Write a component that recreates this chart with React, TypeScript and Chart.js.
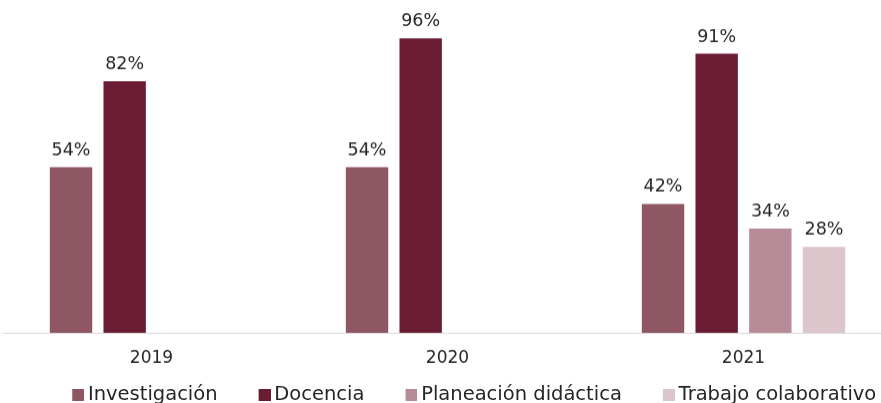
import { useEffect, useRef } from "react";
import { Chart, registerables } from "chart.js";

Chart.register(...registerables);

const categories = ["2019", "2020", "2021"];
const seriesNames = ["Investigación", "Docencia", "Planeación didáctica", "Trabajo colaborativo"];
const investigacion: (number | null)[] = [54, 54, 42];
const docencia: (number | null)[] = [82, 96, 91];
const planeacion: (number | null)[] = [null, null, 34];
const trabajo: (number | null)[] = [null, null, 28];
const seriesColors = ["#8f5664", "#6a1c33", "#b88c97", "#dcc6cc"];

const FONT = "'DejaVu Sans', sans-serif";
const TEXT = "#262626";

const valueLabels = {
  id: "valueLabels",
  afterDatasetsDraw(chart: any) {
    const ctx = chart.ctx;
    ctx.save();
    ctx.font = `17.5px ${FONT}`;
    ctx.fillStyle = TEXT;
    ctx.textAlign = "center";
    ctx.textBaseline = "alphabetic";
    chart.data.datasets.forEach((ds: any, di: number) => {
      const meta = chart.getDatasetMeta(di);
      meta.data.forEach((el: any, i: number) => {
        const v = ds.data[i];
        if (v === null || v === undefined) return;
        ctx.fillText(`${v}%`, el.x, el.y - 12);
      });
    });
    ctx.restore();
  },
};

function makeMarker(color: string): HTMLCanvasElement {
  // legend marker: transparent lead-in followed by a 12px square
  const c = document.createElement("canvas");
  c.width = 42;
  c.height = 12;
  const g = c.getContext("2d");
  if (g) {
    g.fillStyle = color;
    g.fillRect(30, 0, 12, 12);
  }
  return c;
}

export default function App() {
  const ref = useRef<HTMLCanvasElement | null>(null);

  useEffect(() => {
    if (!ref.current) return;
    const seriesData = [investigacion, docencia, planeacion, trabajo];
    const markers = seriesColors.map(makeMarker);
    const chart = new Chart(ref.current, {
      type: "bar",
      data: {
        labels: categories,
        datasets: seriesNames.map((name, i) => ({
          label: name,
          data: seriesData[i],
          backgroundColor: seriesColors[i],
          borderWidth: 0,
          categoryPercentage: 0.725,
          barPercentage: 0.79,
        })),
      },
      options: {
        animation: false,
        responsive: true,
        maintainAspectRatio: false,
        devicePixelRatio: 1,
        layout: { padding: { left: 3.5, right: 0, top: 26, bottom: 0 } },
        plugins: {
          tooltip: { enabled: false },
          legend: {
            position: "bottom",
            align: "center",
            labels: {
              usePointStyle: true,
              pointStyleWidth: 30,
              boxHeight: 12,
              padding: 17,
              color: TEXT,
              font: { family: FONT, size: 19.5 },
              generateLabels: (ch: any) =>
                (Chart.defaults.plugins.legend.labels.generateLabels as any)(ch).map((item: any, i: number) => ({
                  ...item,
                  pointStyle: markers[i],
                })),
            },
          },
        },
        scales: {
          x: {
            grid: { display: false, drawTicks: false },
            border: { display: true, color: "#d9d9d9", width: 1 },
            ticks: { color: TEXT, font: { family: FONT, size: 17 }, padding: 15 },
            afterFit: (s: any) => {
              s.height = 35.4;
            },
          },
          y: {
            position: "right",
            min: 0,
            max: 100,
            grid: { display: false, drawTicks: false },
            border: { display: false },
            ticks: { display: false },
            afterFit: (s: any) => {
              s.width = 29.5;
            },
          },
        },
      },
      plugins: [valueLabels],
    });
    return () => chart.destroy();
  }, []);

  return (
    <div style={{ position: "fixed", left: 0, top: 0, width: 881, height: 403, overflow: "hidden", background: "#fff" }}>
      <div style={{ position: "relative", width: 921, height: 413.9 }}>
        <canvas ref={ref} />
      </div>
    </div>
  );
}
